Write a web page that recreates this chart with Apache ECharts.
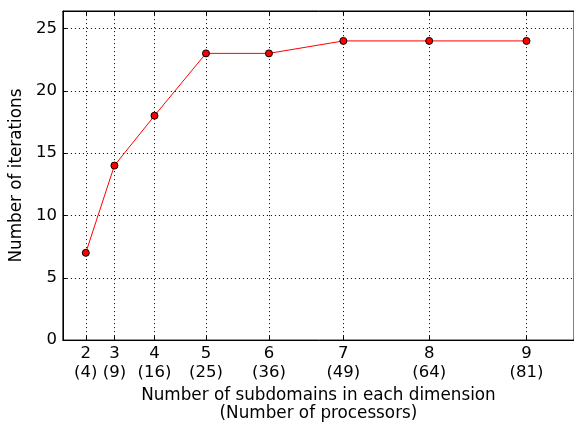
<!DOCTYPE html>
<html>
<head>
<meta charset="utf-8">
<script src="https://cdn.jsdelivr.net/npm/echarts@6/dist/echarts.min.js"></script>
<style>
html,body{margin:0;padding:0;background:#fff;}
#chart{width:574px;height:428px;}
</style>
</head>
<body>
<div id="chart"></div>
<script>
const subdomains = [2, 3, 4, 5, 6, 7, 8, 9];
const processors = [4, 9, 16, 25, 36, 49, 64, 81];
const iterations = [7, 14, 18, 23, 23, 24, 24, 24];
const yTicks = [0, 5, 10, 15, 20, 25];

const FONT = 'DejaVu Sans';
const FS = 16.5;
const FN = 16.8;
const chart = echarts.init(document.getElementById('chart'), null, {renderer: 'canvas'});
const dotted = {color: '#000', width: 1, type: [1, 3]};

const labelFor = v => {
  const i = processors.indexOf(v);
  return i >= 0 ? subdomains[i] + '\n(' + processors[i] + ')' : '';
};

chart.setOption({
  animation: false,
  backgroundColor: '#fff',
  textStyle: {fontFamily: FONT},
  grid: {left: 57, top: 11, right: 0, bottom: 83, show: true, borderColor: '#000', borderWidth: 1, containLabel: false},
  xAxis: [{
    type: 'value', min: 0, max: 89.3, position: 'bottom',
    name: 'Number of subdomains in each dimension\n(Number of processors)',
    nameLocation: 'middle', nameGap: 43,
    nameTextStyle: {fontFamily: FONT, fontSize: FN, color: '#000', lineHeight: 18},
    axisLine: {show: true, lineStyle: {color: '#000', width: 1}},
    axisTick: {show: true, inside: true, length: 4, customValues: processors, lineStyle: {color: '#000'}},
    axisLabel: {customValues: processors, formatter: labelFor, fontFamily: FONT, fontSize: FS, color: '#000', margin: 4, lineHeight: 19},
    splitLine: {show: false}
  }, {
    type: 'value', min: 0, max: 89.3, position: 'top',
    axisLine: {show: true, lineStyle: {color: '#000', width: 1}},
    axisTick: {show: true, inside: true, length: 4, customValues: processors, lineStyle: {color: '#000'}},
    axisLabel: {show: false},
    splitLine: {show: false}
  }],
  yAxis: [{
    type: 'value', min: 0, max: 26.4, interval: 5,
    name: 'Number of iterations', nameLocation: 'middle', nameGap: 31,
    nameTextStyle: {fontFamily: FONT, fontSize: FN, color: '#000'},
    axisLine: {show: true, lineStyle: {color: '#000', width: 1}},
    axisTick: {show: true, inside: true, length: 4, customValues: yTicks, lineStyle: {color: '#000'}},
    axisLabel: {customValues: yTicks, fontFamily: FONT, fontSize: FS, color: '#000', margin: 6},
    splitLine: {show: false}
  }],
  series: [{
    type: 'line',
    data: processors.map((p, i) => [p, iterations[i]]),
    symbol: 'circle', symbolSize: 7,
    lineStyle: {color: '#ff0000', width: 1},
    itemStyle: {color: '#ff0000', borderColor: '#000', borderWidth: 1},
    z: 5,
    markLine: {
      silent: true, symbol: 'none', label: {show: false},
      lineStyle: dotted,
      data: processors.map(p => ({xAxis: p})).concat(yTicks.filter(v => v > 0).map(v => ({yAxis: v})))
    }
  }]
});
</script>
</body>
</html>
